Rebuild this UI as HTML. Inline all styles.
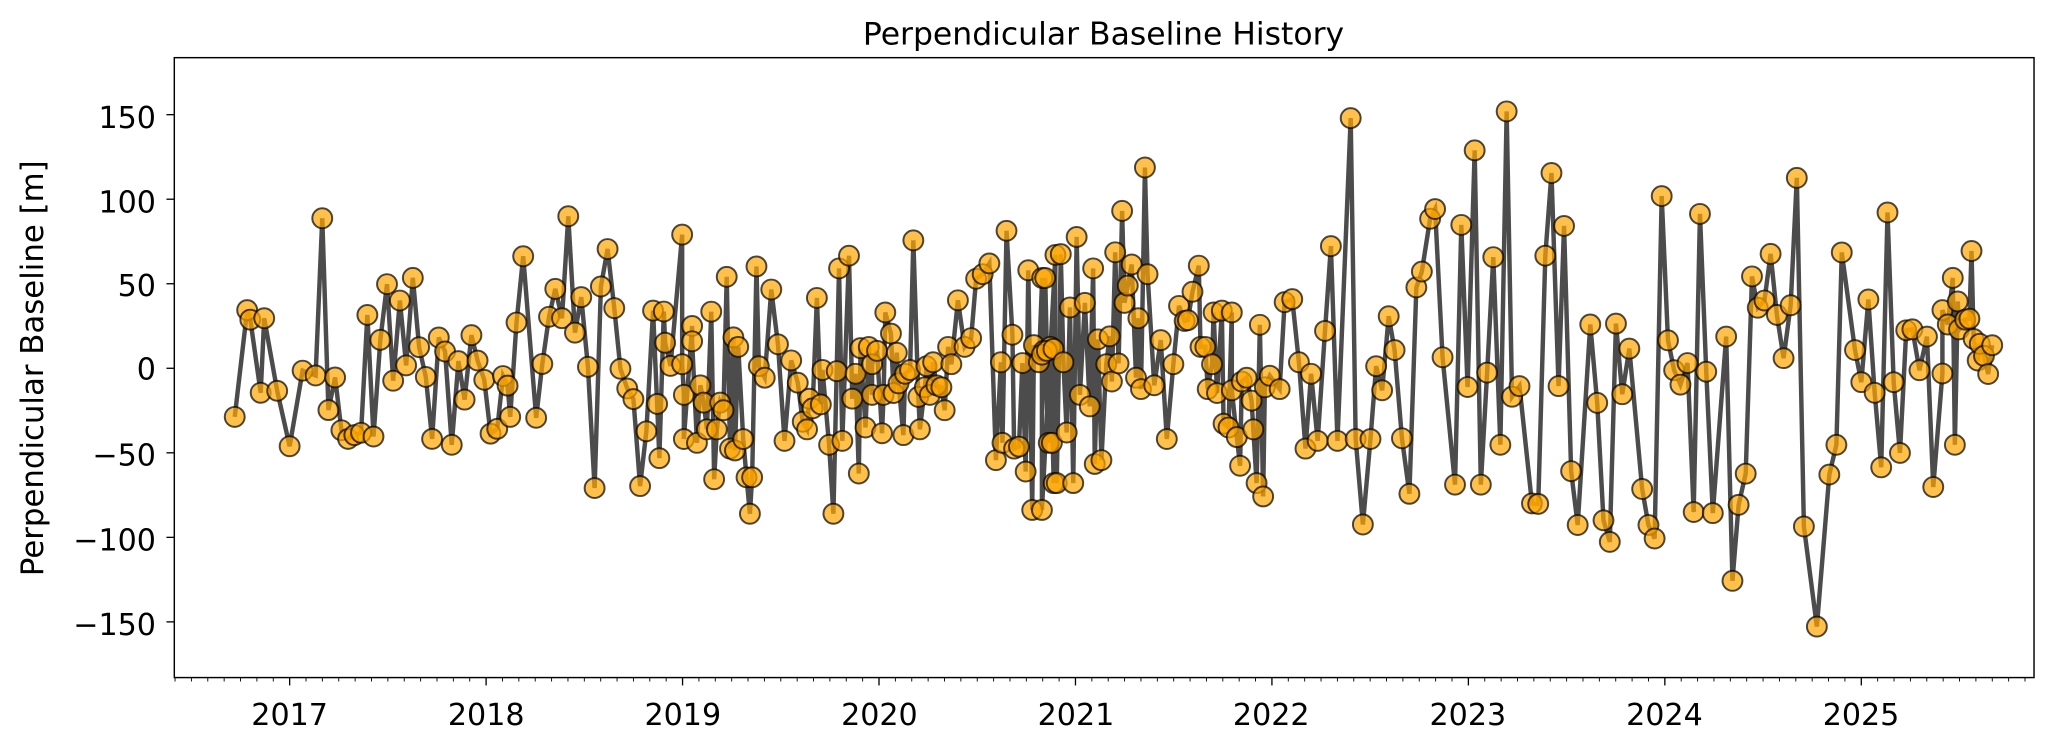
<!DOCTYPE html>
<html><head><meta charset="utf-8"><style>
html,body{margin:0;padding:0;background:#fff;}
svg{display:block;font-family:"DejaVu Sans","Liberation Sans",sans-serif;}
</style></head><body>
<svg id="c" width="2055" height="750" viewBox="0 0 1568 572.26" xmlns="http://www.w3.org/2000/svg">
<rect width="1568" height="573" fill="#fff"/>
<text x="842" y="34" font-size="24" text-anchor="middle">Perpendicular Baseline History</text>
<text transform="translate(33,281) rotate(-90)" font-size="23.5" text-anchor="middle">Perpendicular Baseline [m]</text>
<g font-size="23" text-anchor="end">
<text x="119" y="97.5">150</text>
<text x="119" y="162">100</text>
<text x="119" y="226">50</text>
<text x="119" y="289.5">0</text>
<text x="119" y="355">−50</text>
<text x="119" y="420">−100</text>
<text x="119" y="484.5">−150</text>
</g>
<g font-size="23" text-anchor="middle">
<text x="221" y="553">2017</text><text x="371" y="553">2018</text><text x="521" y="553">2019</text>
<text x="671" y="553">2020</text><text x="821" y="553">2021</text><text x="970" y="553">2022</text>
<text x="1120" y="553">2023</text><text x="1270" y="553">2024</text><text x="1420" y="553">2025</text>
</g>
<g id="ticks" stroke="#000" stroke-width="1"></g>
<g id="data"></g>
<rect x="133" y="44" width="1419" height="473" fill="none" stroke="#000" stroke-width="1.1"/>
</svg>
<script>
(function(){
function sxY(Y){return 221+(Y-2017)*149.9;}
function syV(v){return 281-v*1.29;}
var t=document.getElementById('ticks'),h='';
[150,100,50,0,-50,-100,-150].forEach(function(v){var y=syV(v);h+='<line x1="127" x2="133" y1="'+y+'" y2="'+y+'"/>';});
for(var m=0;m<12*10;m++){var Y=2016+m/12;var x=sxY(Y);if(x<133||x>1552)continue;var maj=(m%12==0);
h+='<line x1="'+x+'" x2="'+x+'" y1="517" y2="'+(517+(maj?6:3))+'" stroke-width="'+(maj?1:0.7)+'"/>';}
t.innerHTML=h;
var z1=[[527,872],[555,650],[562,670],[585,822],[593,667],[622,818],[650,933],[679,776],[708,786],[723,459],[737,858],[752,790],[766,900],[781,918],[795,910],[810,905],[824,660],[838,913],[853,712],[868,596],[882,797],[897,630],[911,765],[926,583],[940,727],[955,789],[969,918],[984,707],[998,736],[1013,930],[1028,756],[1042,836],[1057,702],[1071,755],[1086,795],[1100,907],[1115,897],[1128,787],[1138,807],[1144,872],[1158,676],[1173,538],[1202,874],[1216,762],[1231,664],[1245,606],[1260,667],[1274,455],[1289,697],[1303,623],[1318,768],[1333,1020],[1347,601],[1362,523],[1377,646],[1391,772],[1406,813],[1420,835],[1435,1016],[1449,902],[1464,651],[1473,845],[1478,958],[1488,653],[1491,718],[1503,766]];
var z3=[[0,487],[0,825],[5,905],[5,1020],[30,725],[30,765],[45,1030],[55,880],[65,925],[75,995],[88,688],[97,1125],[105,995],[115,925],[125,945],[135,597],[145,1045],[155,755],[160,1050],[170,780],[185,1020],[195,1120],[205,1215],[212,1120],[225,570],[232,830],[250,860],[270,630],[290,773],[310,1025],[330,815],[350,873],[365,975],[378,995],[385,915],[395,940],[408,652],[420,930],[425,840],[445,1035],[458,1215],[468,843],[475,575],[485,1025],[505,542],[515,915],[525,850],[535,1110],[540,783],[555,990],[565,780],[575,905],[575,825],[590,790],[605,1005],[610,905],[615,690],[632,745],[640,900],[650,795],[655,875],[670,1010],[675,850],[690,840],[700,502],[715,910],[720,995],[735,885],[740,830],[750,905],[760,820],[770,880],[785,885],[795,945],[805,780],[815,825],[835,658],[855,780],[875,757],[890,602],[910,590],[930,562],[950,1075],[965,820],[970,1030],[982,477],[1000,748],[1005,1045],[1020,1040],[1030,822],[1040,1105],[1048,580],[1060,1205],[1065,775],[1080,820],[1090,600],[1095,790],[1110,1030],[1115,780],[1125,1135],[1130,540]];
var z4=[[0,1205],[0,800],[10,600],[15,790],[30,1030],[35,785],[45,1135],[57,538],[65,820],[75,1003],[85,677],[95,1135],[105,493],[115,905],[130,665],[145,935],[155,575],[160,1085],[170,760],[180,1075],[195,825],[205,752],[212,870],[222,533],[232,823],[243,425],[250,665],[260,620],[272,565],[285,860],[292,705],[300,890],[312,312],[320,590],[340,880],[360,762],[378,1020],[398,825],[415,673],[432,712],[442,710],[456,636],[475,568],[480,780],[495,780],[502,890],[515,825],[520,690],[530,900],[545,685],[550,980],[565,990],[575,690],[575,893],[590,1015],[600,1090],[605,870],[620,860],[635,920],[640,995],[650,1135],[660,722],[670,1170],[675,885],[690,855],[720,890],[735,663],[758,655],[778,820],[798,1045],[815,850],[835,1025],[857,738],[875,517],[895,1025],[935,183],[950,1020],[972,1243],[995,1020],[1012,830],[1030,893],[1050,700],[1068,788],[1090,1018]];
var z2=[[38,1032],[55,603],[68,570],[88,460],[100,440],[118,748],[148,1013],[163,473],[178,810],[195,318],[210,1013],[225,780],[240,540],[257,930],[272,237],[285,830],[303,808],[333,1052],[348,1053],[365,537],[380,365],[397,808],[410,475],[427,985],[443,1097],[473,680],[490,843],[505,1087],[520,1132],[535,678],[550,825],[567,730],[598,1022],[613,1097],[628,1125],[645,413],[660,713],[675,775],[690,805],[707,760],[722,1070],[737,450],[752,778],[768,1072],[800,705],[815,1213],[830,1055],[847,990],[862,580],[876,645],[892,630],[907,533],[922,660],[938,750],[955,640],[970,375],[987,1100],[1018,1308],[1048,992],[1065,930],[1078,530],[1110,733],[1125,800],[1142,628],[1157,822],[1173,977],[1188,447],[1203,800],[1218,947],[1233,692],[1248,690],[1265,775],[1283,705],[1298,1018],[1320,782],[1320,650],[1333,680],[1345,583],[1350,930],[1357,632],[1360,690],[1375,670],[1385,668],[1390,527],[1395,710],[1405,755],[1410,720],[1420,745],[1430,783],[1440,723]];
var P=[];
z1.forEach(function(p){P.push([sxY(2017+(p[0]-650)/440),syV((771-p[1])/3.515)]);});
z3.forEach(function(p){P.push([520.5+p[0]*0.252,syV(182.7-(p[1]-30)*0.2268)]);});
z4.forEach(function(p){P.push([795+p[0]*0.252,syV(182.7-(p[1]-30)*0.2268)]);});
z2.forEach(function(p){P.push([sxY(2023+(p[0]-180)/472.5),syV((771-p[1])/3.515)]);});
var d='';P.forEach(function(p,i){d+=(i?'L':'M')+p[0].toFixed(1)+' '+p[1].toFixed(1);});
var g='<path d="'+d+'" fill="none" stroke="rgba(0,0,0,0.7)" stroke-width="3.4" stroke-linejoin="miter"/>';
P.forEach(function(p){g+='<circle cx="'+p[0].toFixed(1)+'" cy="'+p[1].toFixed(1)+'" r="7.6" fill="rgba(255,165,0,0.7)" stroke="rgba(0,0,0,0.7)" stroke-width="1.5"/>';});
document.getElementById('data').innerHTML=g;
})();
</script>
</body></html>
